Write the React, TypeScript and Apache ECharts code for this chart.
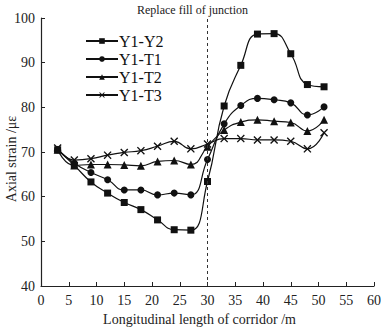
import React, { useEffect, useRef } from "react";
import * as echarts from "echarts";

const xValues = [3, 6, 9, 12, 15, 18, 21, 24, 27, 30, 33, 36, 39, 42, 45, 48, 51];
const seriesNames = ["Y1-Y2", "Y1-T1", "Y1-T2", "Y1-T3"];
const y1y2 = [70.5, 67.0, 63.3, 60.8, 58.7, 57.1, 54.8, 52.6, 52.5, 63.4, 80.3, 89.4, 96.4, 96.5, 92.0, 85.1, 84.6];
const y1t1 = [70.5, 67.5, 65.4, 63.8, 61.5, 61.5, 60.4, 60.8, 60.4, 68.3, 76.3, 80.4, 82.0, 81.7, 81.0, 78.3, 80.1];
const y1t2 = [70.5, 67.0, 67.2, 67.2, 67.1, 66.9, 67.9, 68.1, 67.2, 71.2, 74.9, 76.7, 77.2, 76.9, 76.6, 74.7, 77.2];
const y1t3 = [70.9, 68.2, 68.5, 69.3, 69.9, 70.3, 71.3, 72.4, 70.7, 71.8, 73.0, 73.0, 72.7, 72.7, 72.4, 70.7, 74.3];
const xTicks = [0, 5, 10, 15, 20, 25, 30, 35, 40, 45, 50, 55, 60];
const yTicks = [40, 50, 60, 70, 80, 90, 100];
const boundaryX = 30;
const yAxisTitle = "Axial strain /με";
const xAxisTitle = "Longitudinal length of corridor /m";
const boundaryTitle = "Replace fill of junction";

const crossPath =
  "path://M0,1.2L1.2,0L5,3.8L8.8,0L10,1.2L6.2,5L10,8.8L8.8,10L5,6.2L1.2,10L0,8.8L3.8,5Z";
const symbols = ["rect", "circle", "triangle", crossPath];
const symbolSizes = [7, 7, 8, 8];
const dataSets = [y1y2, y1t1, y1t2, y1t3];

const FONT = "Liberation Serif";

export default function App() {
  const ref = useRef<HTMLDivElement>(null);
  useEffect(() => {
    if (!ref.current) return;
    const chart = echarts.init(ref.current, null, { renderer: "svg" });
    const series: any[] = dataSets.map((d, i) => ({
      name: seriesNames[i],
      type: "line",
      smooth: 0.5,
      data: xValues.map((x, j) => [x, d[j]]),
      symbol: symbols[i],
      symbolSize: symbolSizes[i],
      lineStyle: { color: "#111", width: 1.2 },
      itemStyle: { color: "#111" },
      z: 3,
    }));
    series[0].markLine = {
      silent: true,
      symbol: ["none", "none"],
      label: { show: false },
      lineStyle: { color: "#333", type: [3, 3], width: 1 },
      data: [{ xAxis: boundaryX }],
    };
    chart.setOption({
      animation: false,
      backgroundColor: "#fff",
      grid: { left: 41, right: 7, top: 18, bottom: 41, containLabel: false, outerBoundsMode: "none" },
      legend: {
        orient: "vertical",
        left: 80,
        top: 28,
        itemWidth: 32,
        itemHeight: 7,
        itemGap: 2,
        data: seriesNames,
        textStyle: { fontFamily: FONT, fontSize: 16, color: "#111", lineHeight: 16, padding: [0, 0, 0, -4] },
      },
      xAxis: {
        type: "value",
        min: 0,
        max: 60,
        interval: 5,
        name: xAxisTitle,
        nameLocation: "middle",
        nameGap: 26,
        nameTextStyle: { fontFamily: FONT, fontSize: 14, color: "#222", padding: [0, 16, 0, 0] },
        axisLine: { lineStyle: { color: "#222", width: 1.2 } },
        axisTick: { inside: true, length: 4, lineStyle: { color: "#222" } },
        axisLabel: { fontFamily: FONT, fontSize: 14, color: "#222", margin: 7 },
        splitLine: { show: false },
      },
      yAxis: {
        type: "value",
        min: 40,
        max: 100,
        interval: 10,
        axisLine: { show: true, lineStyle: { color: "#222", width: 1.2 } },
        axisTick: { show: true, inside: true, length: 4, lineStyle: { color: "#222" } },
        axisLabel: { fontFamily: FONT, fontSize: 14, color: "#222", margin: 6 },
        splitLine: { show: false },
      },
      graphic: [
        {
          type: "text",
          left: 137,
          top: 4,
          style: { text: boundaryTitle, font: `12px ${FONT}`, fill: "#222" },
        },
        {
          type: "text",
          x: 11,
          y: 159,
          rotation: Math.PI / 2,
          style: {
            text: yAxisTitle,
            font: `14px ${FONT}`,
            fill: "#222",
            align: "center",
            verticalAlign: "middle",
          },
        },
      ],
      series,
    });
    return () => chart.dispose();
  }, []);
  return (
    <div
      ref={ref}
      style={{ position: "fixed", left: 0, top: 0, width: 381, height: 327 }}
    />
  );
}
